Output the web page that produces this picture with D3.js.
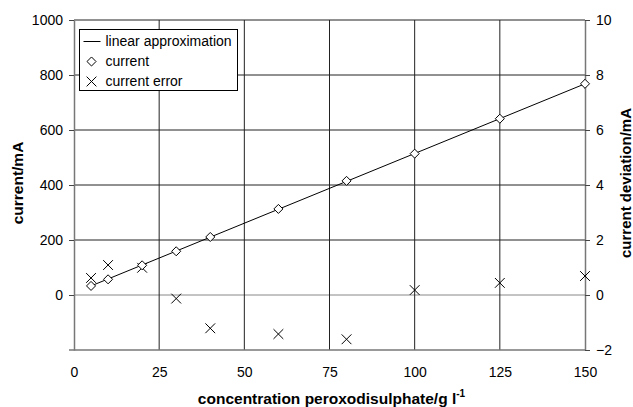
<!DOCTYPE html>
<html>
<head>
<meta charset="utf-8">
<script src="https://cdn.jsdelivr.net/npm/d3@7"></script>
<style>
  body { margin: 0; background: #fff; }
  svg { font-family: "Liberation Sans", Arial, sans-serif; }
</style>
</head>
<body>
<div class="main"></div>
<script>
// données
const concentration = [5, 10, 20, 30, 40, 60, 80, 100, 125, 150];
const courant = [33, 57, 108, 159, 211, 313, 415, 514, 641, 768];
const ecart = [0.62, 1.09, 0.99, -0.13, -1.21, -1.42, -1.61, 0.18, 0.44, 0.69];
const approxX = [5, 150];
const approxY = [33, 768];
const ticksX = [0, 25, 50, 75, 100, 125, 150];
const ticksGauche = [0, 200, 400, 600, 800, 1000];
const ticksDroite = [-2, 0, 2, 4, 6, 8, 10];
const legende = ['linear approximation', 'current', 'current error'];

const width = 633;
const height = 407;
const margin = { top: 20, right: 48, bottom: 57, left: 74 };

const svg = d3.select('.main')
  .append('svg')
  .attr('width', width)
  .attr('height', height);

const x = d3.scaleLinear()
  .domain([0, 150])
  .range([margin.left, width - margin.right]);

const y = d3.scaleLinear()
  .domain([-200, 1000])
  .range([height - margin.bottom, margin.top]);

const y2 = d3.scaleLinear()
  .domain([-2, 10])
  .range([height - margin.bottom, margin.top]);

// grille
svg.append('g')
  .selectAll('line')
  .data(ticksGauche)
  .enter()
  .append('line')
  .attr('x1', x(0))
  .attr('x2', x(150))
  .attr('y1', d => y(d))
  .attr('y2', d => y(d))
  .attr('stroke', d => d === 0 ? '#888' : '#222')
  .attr('stroke-width', 1);

svg.append('g')
  .selectAll('line')
  .data(ticksX.filter(d => d > 0 && d < 150))
  .enter()
  .append('line')
  .attr('x1', d => x(d))
  .attr('x2', d => x(d))
  .attr('y1', y(-200))
  .attr('y2', y(1000))
  .attr('stroke', '#222')
  .attr('stroke-width', 1);

const styleAxe = g => g
  .attr('font-family', null)
  .attr('font-size', 14)
  .call(g => g.selectAll('text').attr('fill', '#000'));

// axe horizontal
svg.append('g')
  .attr('transform', `translate(0, ${y(-200)})`)
  .call(d3.axisBottom(x).tickValues(ticksX).tickSize(0).tickPadding(17))
  .call(styleAxe)
  .call(g => g.select('.domain').attr('stroke', '#777').attr('stroke-width', 1.5)
    .attr('d', `M${x(0) - 5},0H${x(150)}`));

// axe gauche
svg.append('g')
  .attr('transform', `translate(${x(0)}, 0)`)
  .call(d3.axisLeft(y).tickValues(ticksGauche).tickFormat(d3.format('d')).tickSize(5).tickSizeOuter(0).tickPadding(6))
  .call(styleAxe)
  .call(g => g.select('.domain').attr('stroke', '#777').attr('stroke-width', 1.5))
  .call(g => g.selectAll('.tick line').attr('stroke', '#444'));

// axe droit
svg.append('g')
  .attr('transform', `translate(${x(150)}, 0)`)
  .call(d3.axisRight(y2).tickValues(ticksDroite).tickFormat(d3.format('d')).tickSize(5).tickSizeOuter(0).tickPadding(6))
  .call(styleAxe)
  .call(g => g.select('.domain').attr('stroke', '#777').attr('stroke-width', 1.5))
  .call(g => g.selectAll('.tick line').attr('stroke', '#444'));

// approximation linéaire
svg.append('path')
  .datum(approxX.map((d, i) => [d, approxY[i]]))
  .attr('fill', 'none')
  .attr('stroke', '#000')
  .attr('stroke-width', 1)
  .attr('d', d3.line().x(d => x(d[0])).y(d => y(d[1])));

const losange = d3.symbol().type(d3.symbolDiamond2).size(52);
const croix = d3.symbol().type(d3.symbolTimes).size(64);

// écart
svg.append('g')
  .selectAll('path')
  .data(concentration)
  .enter()
  .append('path')
  .attr('transform', (d, i) => `translate(${x(d)}, ${y2(ecart[i])})`)
  .attr('d', croix)
  .attr('fill', 'none')
  .attr('stroke', '#000')
  .attr('stroke-width', 1);

// courant
svg.append('g')
  .selectAll('path')
  .data(concentration)
  .enter()
  .append('path')
  .attr('transform', (d, i) => `translate(${x(d)}, ${y(courant[i])})`)
  .attr('d', losange)
  .attr('fill', '#fff')
  .attr('stroke', '#000')
  .attr('stroke-width', 1);

// légende
const leg = svg.append('g').attr('transform', 'translate(79.5, 29.5)');
leg.append('rect')
  .attr('width', 158)
  .attr('height', 61)
  .attr('fill', '#fff')
  .attr('stroke', '#000');
leg.append('line')
  .attr('x1', 4).attr('x2', 21)
  .attr('y1', 12).attr('y2', 12)
  .attr('stroke', '#000');
leg.append('path')
  .attr('transform', 'translate(12, 32)')
  .attr('d', losange)
  .attr('fill', '#fff')
  .attr('stroke', '#000');
leg.append('path')
  .attr('transform', 'translate(12, 52)')
  .attr('d', croix)
  .attr('fill', 'none')
  .attr('stroke', '#000');
leg.selectAll('text')
  .data(legende)
  .enter()
  .append('text')
  .attr('x', 26)
  .attr('y', (d, i) => 12 + i * 20)
  .attr('dy', '0.35em')
  .attr('font-size', 14)
  .text(d => d);

// titres des axes
svg.append('text')
  .attr('transform', `translate(22.5, 183) rotate(-90)`)
  .attr('text-anchor', 'middle')
  .attr('font-size', 15.5)
  .attr('font-weight', 'bold')
  .text('current/mA');

svg.append('text')
  .attr('transform', `translate(630.5, 183) rotate(-90)`)
  .attr('text-anchor', 'middle')
  .attr('font-size', 15)
  .attr('font-weight', 'bold')
  .text('current deviation/mA');

const titreX = svg.append('text')
  .attr('x', x(75) + 2)
  .attr('y', 404)
  .attr('text-anchor', 'middle')
  .attr('font-size', 15.5)
  .attr('font-weight', 'bold');
titreX.append('tspan').text('concentration peroxodisulphate/g l');
titreX.append('tspan').attr('font-size', 10).attr('dy', -7).text('-1');
</script>
</body>
</html>
